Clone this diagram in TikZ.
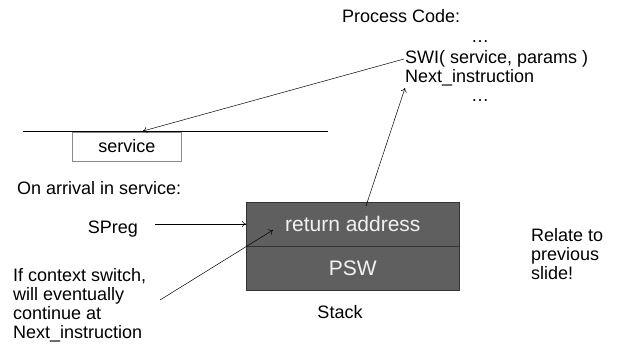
\documentclass[tikz,border=0pt]{standalone}
\usepackage{fontspec}
\setmainfont{Liberation Sans}
\usetikzlibrary{arrows.meta}
\definecolor{stackfill}{HTML}{5F5F5F}
\definecolor{stacktext}{HTML}{F2F2F2}
\definecolor{boxedge}{HTML}{8A8A8A}
\tikzset{
  lbl/.style={inner sep=0pt, text height=12.5pt, text depth=3pt,
    font=\fontsize{18}{18}\selectfont},
  multilbl/.style={inner sep=0pt, align=left, font=\fontsize{18}{18}\selectfont},
  cell/.style={draw=black!80, fill=stackfill, text=stacktext, inner sep=0pt,
    font=\fontsize{21}{21}\selectfont, line width=0.6pt},
  ptr/.style={line width=0.5pt, -{To[length=4pt,width=6pt]}},
}
\begin{document}
\begin{tikzpicture}[x=1pt,y=-1pt]
\useasboundingbox (0,0) rectangle (618,353);

% process code listing
\node[lbl, anchor=west] (pc) at (342,18) {Process Code:};
\node[lbl] (dots1) at (480,38) {\dots};
\node[lbl, anchor=west] (swi) at (405,59) {SWI( service, params )};
\node[lbl, anchor=west] (next) at (405,78) {Next\_instruction};
\node[lbl] (dots2) at (480,97) {\dots};

% kernel boundary and service routine
\coordinate (lineL) at (23,131.5);
\coordinate (lineR) at (328,131.5);
\draw[line width=0.6pt] (lineL) -- (lineR);
\node[draw=boxedge, line width=0.6pt, minimum width=109pt, minimum height=29pt,
  inner sep=0pt, anchor=north west, font=\fontsize{18}{18}\selectfont]
  (service) at (72,131.5) {service};

\node[lbl, anchor=west] (arrive) at (17,190) {On arrival in service:};

% stack frame
\node[cell, minimum width=213pt, minimum height=43.5pt, anchor=north west]
  (ret) at (246,202) {return address};
\node[cell, minimum width=213pt, minimum height=43.5pt, anchor=north]
  (psw) at (ret.south) {PSW};
\node[lbl] (stack) at (340,314) {Stack};

\node[lbl, anchor=east] (spreg) at (138,229) {SPreg};

\node[multilbl, anchor=north west] (ctx) at (13,268)
  {If context switch,\\[1pt]will eventually\\[1pt]continue at\\[1pt]Next\_instruction};

\node[multilbl, anchor=north west] (relate) at (531,228)
  {Relate to\\[1pt]previous\\[1pt]slide!};

% connectors
\coordinate (swiTail) at ([xshift=-1pt]swi.west);
\coordinate (svcTip) at (143,131);
\draw[ptr] (swiTail) -- (svcTip);

\coordinate (retTop) at (366,206);
\coordinate (nextTip) at (405,88);
\draw[ptr] (retTop) -- (nextTip);

\coordinate (spTail) at (155,224);
\draw[ptr] (spTail) -- (ret.west |- spTail);

\coordinate (ctxTail) at (160,300);
\coordinate (ctxTip) at (273,230);
\draw[ptr] (ctxTail) -- (ctxTip);
\end{tikzpicture}
\end{document}
